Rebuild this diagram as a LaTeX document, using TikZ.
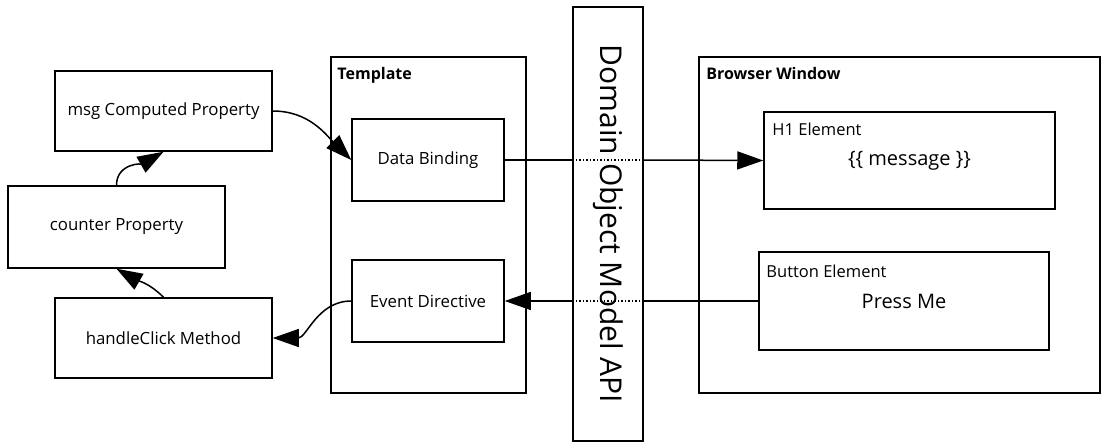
\documentclass[tikz,border=0pt]{standalone}
\usepackage{fontspec}
\setmainfont{Open Sans}
\usetikzlibrary{arrows.meta,positioning}

\begin{document}
\begin{tikzpicture}[
  x=1pt, y=-1pt,
  every node/.style={inner sep=0pt},
  box/.style={draw, line width=1.5pt, align=center, font=\fontsize{16.8}{19}\selectfont},
  frame/.style={draw, line width=1.5pt},
  title/.style={font=\bfseries\fontsize{16}{18}\selectfont},
  tag/.style={font=\fontsize{16.5}{18}\selectfont},
  big/.style={draw, line width=1.5pt, font=\fontsize{20}{22}\selectfont},
  arrow/.style={-{Triangle[length=26pt,width=18pt]}, line width=1.5pt},
  link/.style={line width=1.5pt}
]
\useasboundingbox (0,0) rectangle (1105,444);

% left side
\node[box, minimum width=217pt, minimum height=80pt] (msg) at (163.5,111) {msg Computed Property};
\node[box, minimum width=217pt, minimum height=82pt] (counter) at (116.5,227) {counter Property};
\node[box, minimum width=217pt, minimum height=80pt] (handle) at (163.5,338) {handleClick Method};

% template
\node[frame, minimum width=195pt, minimum height=336pt,
  label={[title, anchor=north west, xshift=7pt, yshift=-11pt]north west:Template}] (tpl) at (428.5,225) {};
\node[box, minimum width=152pt, minimum height=82pt] (bind) at (428,160) {Data Binding};
\node[box, minimum width=152pt, minimum height=82pt] (event) at (428,301) {Event Directive};

% dom
\node[frame, minimum width=70pt, minimum height=434pt, font=\fontsize{30}{32}\selectfont] (dom) at (608,224)
  {\rotatebox{-90}{Domain Object Model API}};

% browser
\node[frame, minimum width=401pt, minimum height=336pt,
  label={[title, anchor=north west, xshift=8pt, yshift=-11pt]north west:Browser Window}] (win) at (899.5,225) {};
\node[big, minimum width=291pt, minimum height=97pt,
  label={[tag, anchor=north west, xshift=9pt, yshift=-12pt]north west:H1 Element}] (hone) at (909.5,160.5) {\{\{ message \}\}};
\node[big, minimum width=290pt, minimum height=98pt,
  label={[tag, anchor=north west, xshift=8pt, yshift=-14pt]north west:Button Element}] (button) at (904,301) {Press Me};

\draw[arrow] (counter.north) to[out=90, in=210] (msg.south);
\draw[arrow] (handle.north) to[out=135, in=-30] (counter.south);
\draw[arrow] (msg.east) to[out=0, in=135] (bind.west);
\draw[arrow] (event.west) to[out=180, in=0] (handle.east);

\draw[link] (bind.east) -- (bind.east -| dom.west);
\draw[link, dotted] (bind.east -| dom.west) -- (bind.east -| dom.east);
\draw[arrow] (bind.east -| dom.east) -- (hone.west);

\draw[link] (button.west) -- (button.west -| dom.east);
\draw[link, dotted] (button.west -| dom.east) -- (button.west -| dom.west);
\draw[arrow] (button.west -| dom.west) -- (event.east);
\end{tikzpicture}
\end{document}
